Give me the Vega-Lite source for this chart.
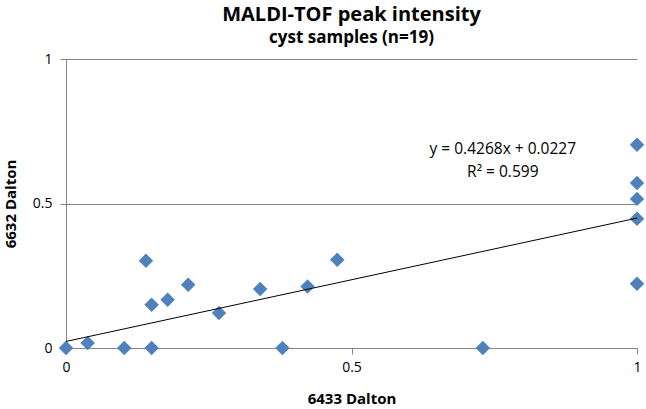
{
  "$schema": "https://vega.github.io/schema/vega-lite/v6.json",
  "width": 571,
  "height": 289,
  "autosize": {"type": "none"},
  "padding": {"left": 66, "top": 59, "right": 9, "bottom": 61},
  "background": "white",
  "title": {
    "text": "MALDI-TOF peak intensity",
    "subtitle": "cyst samples (n=19)",
    "anchor": "middle",
    "font": "Open Sans",
    "fontSize": 20,
    "fontWeight": "bold",
    "color": "#000000",
    "subtitleFont": "Open Sans",
    "subtitleFontSize": 17,
    "subtitleFontWeight": "bold",
    "subtitleColor": "#000000",
    "subtitlePadding": 5,
    "offset": 6
  },
  "config": {
    "view": {"stroke": null},
    "axis": {
      "labelFont": "Open Sans",
      "labelFontSize": 14,
      "labelColor": "#000000",
      "titleFont": "Open Sans",
      "titleFontSize": 15,
      "titleFontWeight": "bold",
      "titleColor": "#000000",
      "domainColor": "#868686",
      "tickColor": "#868686",
      "gridColor": "#868686",
      "gridWidth": 1
    }
  },
  "datasets": {
    "points": [
      {"x6433": 0.0, "y6632": 0.0},
      {"x6433": 0.038, "y6632": 0.017},
      {"x6433": 0.102, "y6632": 0.0},
      {"x6433": 0.14, "y6632": 0.302},
      {"x6433": 0.15, "y6632": 0.15},
      {"x6433": 0.15, "y6632": 0.0},
      {"x6433": 0.178, "y6632": 0.167},
      {"x6433": 0.214, "y6632": 0.219},
      {"x6433": 0.268, "y6632": 0.121},
      {"x6433": 0.34, "y6632": 0.204},
      {"x6433": 0.379, "y6632": 0.0},
      {"x6433": 0.423, "y6632": 0.213},
      {"x6433": 0.475, "y6632": 0.305},
      {"x6433": 0.73, "y6632": 0.0},
      {"x6433": 1.0, "y6632": 0.703},
      {"x6433": 1.0, "y6632": 0.571},
      {"x6433": 1.0, "y6632": 0.516},
      {"x6433": 1.0, "y6632": 0.447},
      {"x6433": 1.0, "y6632": 0.222}
    ],
    "trend": [
      {"x6433": 0.0, "y6632": 0.0227},
      {"x6433": 1.0, "y6632": 0.4495}
    ],
    "labels": [
      {"x6433": 0.765, "y6632": 0.69, "text": "y = 0.4268x + 0.0227"},
      {"x6433": 0.765, "y6632": 0.61, "text": "R² = 0.599"}
    ]
  },
  "layer": [
    {
      "data": {"name": "points"},
      "mark": {"type": "point", "shape": "diamond", "filled": true, "size": 210, "color": "#4F81BD", "opacity": 1},
      "encoding": {
        "x": {
          "field": "x6433", "type": "quantitative",
          "scale": {"domain": [0, 1], "nice": false},
          "axis": {"title": "6433 Dalton", "values": [0, 0.5, 1], "format": "~g", "grid": false, "tickSize": 6, "labelPadding": 6, "titlePadding": 17, "labelFlush": false}
        },
        "y": {
          "field": "y6632", "type": "quantitative",
          "scale": {"domain": [0, 1], "nice": false},
          "axis": {"title": "6632 Dalton", "values": [0, 0.5, 1], "format": "~g", "grid": true, "tickSize": 6, "labelPadding": 8, "titlePadding": 14, "labelFlush": false}
        }
      }
    },
    {
      "data": {"name": "trend"},
      "mark": {"type": "line", "color": "#000000", "strokeWidth": 1},
      "encoding": {
        "x": {"field": "x6433", "type": "quantitative"},
        "y": {"field": "y6632", "type": "quantitative"}
      }
    },
    {
      "data": {"name": "labels"},
      "mark": {"type": "text", "font": "Open Sans", "fontSize": 15.5, "color": "#000000", "align": "center", "baseline": "middle"},
      "encoding": {
        "x": {"field": "x6433", "type": "quantitative"},
        "y": {"field": "y6632", "type": "quantitative"},
        "text": {"field": "text"}
      }
    }
  ]
}
